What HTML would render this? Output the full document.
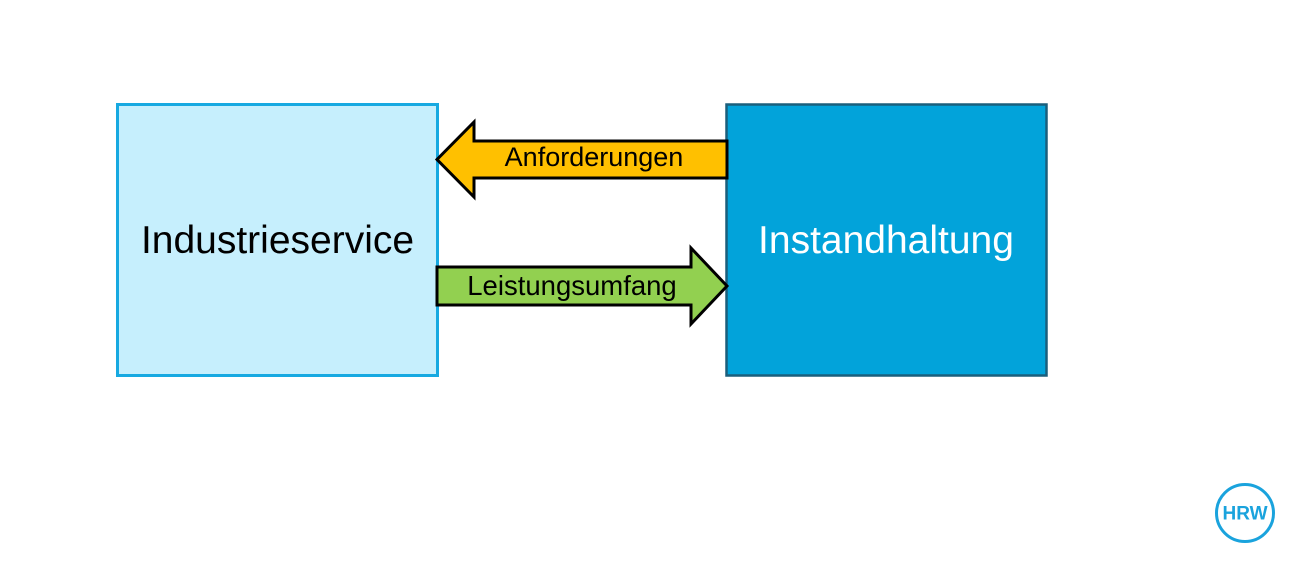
<!DOCTYPE html>
<html>
<head>
<meta charset="utf-8">
<style>
html,body{margin:0;padding:0;background:#fff;}
body{width:1300px;height:576px;overflow:hidden;}
svg{display:block;}
text{font-family:"Liberation Sans",Arial,sans-serif;}
</style>
</head>
<body>
<svg width="1300" height="576" viewBox="0 0 1300 576" xmlns="http://www.w3.org/2000/svg">
  <rect x="0" y="0" width="1300" height="576" fill="#ffffff"/>
  <!-- Left box -->
  <rect x="117.5" y="104.5" width="320" height="271" fill="#c6effd" stroke="#17a9e1" stroke-width="3"/>
  <text x="277.5" y="253" font-size="39" text-anchor="middle" fill="#000">Industrieservice</text>
  <!-- Right box -->
  <rect x="726.5" y="104.5" width="320" height="271" fill="#02a3da" stroke="#1b5f7c" stroke-width="2.5"/>
  <text x="886" y="253" font-size="39" text-anchor="middle" fill="#ffffff">Instandhaltung</text>
  <!-- Arrow: Anforderungen (left) -->
  <polygon points="727,141 474,141 474,122 437,159.5 474,197 474,178 727,178" fill="#ffc000" stroke="#000" stroke-width="3" stroke-linejoin="miter"/>
  <text x="594" y="166" font-size="27" text-anchor="middle" fill="#000">Anforderungen</text>
  <!-- Arrow: Leistungsumfang (right) -->
  <polygon points="437,267 691,267 691,248 727,286 691,324 691,305 437,305" fill="#92d050" stroke="#000" stroke-width="3" stroke-linejoin="miter"/>
  <text x="572" y="295" font-size="27.5" text-anchor="middle" fill="#000">Leistungsumfang</text>
  <!-- HRW logo -->
  <circle cx="1245" cy="513" r="28.5" fill="none" stroke="#1aa3dd" stroke-width="3"/>
  <text x="1245" y="519.5" font-size="19" font-weight="bold" text-anchor="middle" fill="#1aa3dd">HRW</text>
</svg>
</body>
</html>
